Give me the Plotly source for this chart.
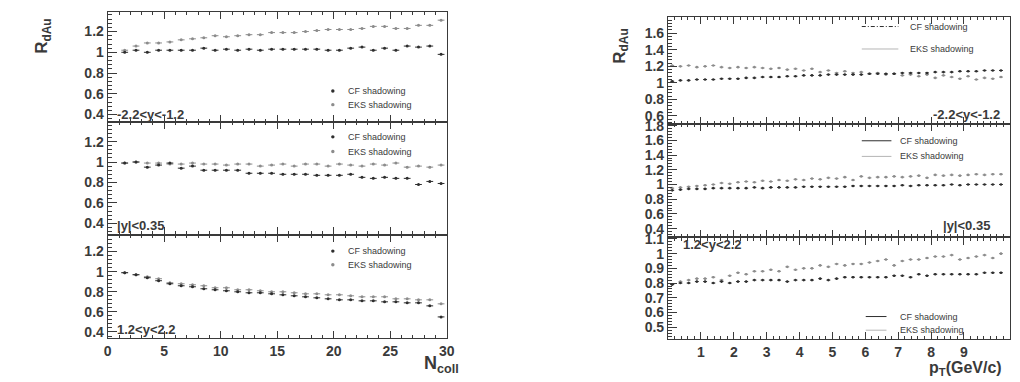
import plotly.graph_objects as go

W, H = 1020, 382

# ---------------- data ----------------
ncoll = [n + 0.5 for n in range(1, 30)]
pt = [0.125 + 0.25 * i for i in range(41)]

# left column: R_dAu vs N_coll
l1_cf = [1.00, 1.02, 1.00, 1.02, 1.02, 1.02, 1.02, 1.04, 1.02, 1.03,
         1.02, 1.03, 1.02, 1.03, 1.03, 1.03, 1.03, 1.03, 1.02, 1.02,
         1.04, 1.05, 1.02, 1.04, 1.02, 1.06, 1.05, 1.06, 0.98]
l1_eks = [1.02, 1.06, 1.09, 1.09, 1.10, 1.12, 1.13, 1.14, 1.16, 1.15,
          1.16, 1.17, 1.17, 1.19, 1.19, 1.19, 1.20, 1.21, 1.22, 1.22,
          1.22, 1.23, 1.25, 1.25, 1.23, 1.23, 1.26, 1.26, 1.31]
l2_cf = [0.99, 1.00, 0.95, 0.97, 0.99, 0.94, 0.96, 0.92, 0.92, 0.92,
         0.92, 0.89, 0.89, 0.89, 0.88, 0.88, 0.88, 0.87, 0.87, 0.87,
         0.88, 0.85, 0.84, 0.85, 0.84, 0.84, 0.78, 0.81, 0.79]
l2_eks = [0.99, 1.00, 0.99, 0.99, 0.98, 0.98, 0.99, 0.98, 0.98, 0.97,
          0.98, 0.98, 0.96, 0.97, 0.98, 0.96, 0.98, 0.98, 0.96, 0.98,
          0.97, 0.96, 0.98, 0.97, 0.99, 0.95, 0.96, 0.95, 0.97]
l3_cf = [0.99, 0.97, 0.94, 0.91, 0.88, 0.86, 0.85, 0.83, 0.82, 0.81,
         0.80, 0.79, 0.79, 0.78, 0.77, 0.76, 0.75, 0.74, 0.73, 0.72,
         0.72, 0.71, 0.71, 0.70, 0.70, 0.69, 0.69, 0.66, 0.55]
l3_eks = [0.99, 0.97, 0.95, 0.93, 0.89, 0.88, 0.87, 0.86, 0.84, 0.84,
          0.82, 0.82, 0.81, 0.80, 0.80, 0.79, 0.78, 0.78, 0.77, 0.77,
          0.76, 0.75, 0.75, 0.75, 0.73, 0.73, 0.72, 0.72, 0.68]

# right column: R_dAu vs pT
r1_cf = [1.02, 1.03, 1.03, 1.04, 1.04, 1.04, 1.05, 1.05, 1.05, 1.06,
         1.06, 1.07, 1.07, 1.07, 1.08, 1.08, 1.09, 1.09, 1.09, 1.10,
         1.10, 1.10, 1.10, 1.10, 1.11, 1.11, 1.11, 1.11, 1.12, 1.12,
         1.12, 1.12, 1.13, 1.13, 1.13, 1.14, 1.14, 1.14, 1.15, 1.15,
         1.15]
r1_eks = [1.21, 1.20, 1.21, 1.19, 1.20, 1.21, 1.19, 1.18, 1.19, 1.18,
          1.19, 1.18, 1.17, 1.18, 1.16, 1.17, 1.15, 1.17, 1.13, 1.15,
          1.12, 1.14, 1.12, 1.13, 1.11, 1.12, 1.10, 1.11, 1.09, 1.10,
          1.08, 1.10, 1.06, 1.09, 1.07, 1.05, 1.08, 1.04, 1.06, 1.05,
          1.07]
r2_cf = [0.92, 0.93, 0.94, 0.94, 0.94, 0.95, 0.95, 0.95, 0.95, 0.95,
         0.96, 0.95, 0.96, 0.96, 0.96, 0.96, 0.97, 0.97, 0.97, 0.97,
         0.97, 0.97, 0.98, 0.98, 0.98, 0.98, 0.98, 0.98, 0.99, 0.98,
         0.99, 0.99, 0.99, 0.99, 1.00, 0.99, 1.00, 1.00, 1.00, 1.00,
         1.00]
r2_eks = [0.95, 0.96, 0.97, 0.98, 0.99, 1.00, 1.02, 1.01, 1.03, 1.04,
          1.03, 1.05, 1.04, 1.06, 1.05, 1.07, 1.06, 1.08, 1.07, 1.09,
          1.08, 1.10, 1.06, 1.11, 1.09, 1.10, 1.10, 1.11, 1.10, 1.11,
          1.12, 1.09, 1.13, 1.12, 1.13, 1.12, 1.13, 1.14, 1.13, 1.14,
          1.14]
r3_cf = [0.79, 0.80, 0.80, 0.81, 0.81, 0.80, 0.81, 0.80, 0.81, 0.81,
         0.82, 0.82, 0.82, 0.82, 0.81, 0.82, 0.82, 0.82, 0.83, 0.82,
         0.83, 0.84, 0.84, 0.84, 0.84, 0.84, 0.84, 0.85, 0.85, 0.84,
         0.86, 0.85, 0.86, 0.86, 0.86, 0.86, 0.86, 0.86, 0.87, 0.87,
         0.87]
r3_eks = [0.79, 0.81, 0.82, 0.83, 0.83, 0.84, 0.82, 0.85, 0.87, 0.86,
          0.88, 0.88, 0.89, 0.88, 0.91, 0.89, 0.90, 0.90, 0.92, 0.91,
          0.93, 0.92, 0.93, 0.93, 0.94, 0.95, 0.96, 0.92, 0.95, 0.96,
          0.96, 0.97, 0.98, 0.98, 0.99, 0.96, 0.97, 0.98, 0.99, 0.97,
          1.00]

left_labels = ["-2.2<y<-1.2", "|y|<0.35", "1.2<y<2.2"]
right_labels = ["-2.2<y<-1.2", "|y|<0.35", "1.2<y<2.2"]
legend_names = ["CF shadowing", "EKS shadowing"]
x_ticks_left = [0, 5, 10, 15, 20, 25, 30]
x_ticks_right = [1, 2, 3, 4, 5, 6, 7, 8, 9]

# ---------------- style ----------------
CF_COL = "#2e2e2e"
EKS_COL = "#8c8c8c"
AX_COL = "#3a3a3a"
FONT = "Liberation Sans"


def px(x):
    return x / W


def py(y):
    return 1 - y / H


# panel pixel boxes: (x0, x1, ytop, ybottom)
panels = [
    (105, 448, 5, 118), (105, 448, 118, 233), (105, 448, 233, 339),
    (672, 1018, 10, 120), (672, 1018, 120, 236), (672, 1018, 236, 340),
]
yranges = [[0.325, 1.39], [0.29, 1.39], [0.34, 1.37],
           [0.5, 1.8], [0.28, 1.82], [0.42, 1.11]]
ytickv = [[0.4, 0.6, 0.8, 1.0, 1.2]] * 3 + [
    [0.6, 0.8, 1.0, 1.2, 1.4, 1.6],
    [0.4, 0.6, 0.8, 1.0, 1.2, 1.4, 1.6, 1.8],
    [0.5, 0.6, 0.7, 0.8, 0.9, 1.0, 1.1]]
yminor = [0.04, 0.04, 0.04, 0.04, 0.04, 0.02]

series = [
    (ncoll, l1_cf, l1_eks), (ncoll, l2_cf, l2_eks), (ncoll, l3_cf, l3_eks),
    (pt, r1_cf, r1_eks), (pt, r2_cf, r2_eks), (pt, r3_cf, r3_eks),
]

fig = go.Figure()
for k, (xs, cf, eks) in enumerate(series):
    ax = "" if k == 0 else str(k + 1)
    left = k < 3
    hx = 0.3 if left else 0.06
    for ys, col in ((eks, EKS_COL), (cf, CF_COL)):
        fig.add_trace(go.Scatter(
            x=xs, y=ys, mode="markers", xaxis="x" + ax, yaxis="y" + ax,
            marker=dict(symbol="circle", size=3 if left else 2.6, color=col),
            error_x=dict(type="constant", value=hx, color=col, thickness=1, width=0),
            error_y=dict(type="constant", value=0.008 if left else 0.006,
                         color=col, thickness=1, width=0),
            showlegend=False, hoverinfo="skip"))

layout = dict(
    width=W, height=H, margin=dict(l=0, r=0, t=0, b=0),
    paper_bgcolor="white", plot_bgcolor="white", showlegend=False,
    font=dict(family=FONT, color=AX_COL),
)

for k, (x0, x1, yt, yb) in enumerate(panels):
    ax = "" if k == 0 else str(k + 1)
    left = k < 3
    bottom = k in (2, 5)
    layout["xaxis" + ax] = dict(
        domain=[px(x0), px(x1)], anchor="y" + ax,
        range=[0, 30] if left else [0, 10.4],
        tickvals=x_ticks_left if left else x_ticks_right,
        showticklabels=bottom, ticks="inside", ticklen=7, tickcolor=AX_COL,
        minor=dict(dtick=1 if left else 0.2, ticks="inside", ticklen=3, tickcolor=AX_COL),
        showline=True, linecolor=AX_COL, linewidth=1.3, mirror="ticks",
        showgrid=False, zeroline=False,
        tickfont=dict(family=FONT, size=14, color=AX_COL, weight="bold"),
    )
    layout["yaxis" + ax] = dict(
        domain=[py(yb), py(yt)], anchor="x" + ax,
        range=yranges[k], tickvals=ytickv[k],
        ticktext=[("%g" % v) for v in ytickv[k]],
        ticks="inside", ticklen=9, tickcolor=AX_COL,
        minor=dict(dtick=yminor[k], ticks="inside", ticklen=4, tickcolor=AX_COL),
        showline=True, linecolor=AX_COL, linewidth=1.3, mirror=True,
        showgrid=False, zeroline=False,
        tickfont=dict(family=FONT, size=14, color=AX_COL, weight="bold"),
    )

fig.update_layout(**layout)

ann = []
shapes = []

# region labels
left_lab_pos = [(112, 110), (112, 224), (112, 330)]
for (x, y), t in zip(left_lab_pos, left_labels):
    ann.append(dict(x=px(x), y=py(y), xref="paper", yref="paper", text=t,
                    showarrow=False, xanchor="left", yanchor="middle",
                    font=dict(family=FONT, size=13, color=AX_COL, weight="bold")))
right_lab_pos = [(1010, 110, "right"), (1000, 224, "right"), (685, 243, "left")]
for (x, y, anc), t in zip(right_lab_pos, right_labels):
    ann.append(dict(x=px(x), y=py(y), xref="paper", yref="paper", text=t,
                    showarrow=False, xanchor=anc, yanchor="middle",
                    font=dict(family=FONT, size=13, color=AX_COL, weight="bold")))

# legends, left column (markers)
for yc, ye in [(86, 100), (133, 148), (250, 264)]:
    for y, col, name in ((yc, CF_COL, legend_names[0]), (ye, EKS_COL, legend_names[1])):
        shapes.append(dict(type="circle", xref="paper", yref="paper",
                           x0=px(331), x1=px(334.5), y0=py(y + 1.7), y1=py(y - 1.7),
                           fillcolor=col, line=dict(width=0)))
        ann.append(dict(x=px(346), y=py(y), xref="paper", yref="paper", text=name,
                        showarrow=False, xanchor="left", yanchor="middle",
                        font=dict(family=FONT, size=9, color=AX_COL)))

# legends, right column (lines)
for (lx0, lx1, tx, yc, ye) in [(868, 905, 915, 20, 43), (868, 898, 905, 137, 153),
                               (872, 893, 905, 317, 331)]:
    for y, col, name, dash in ((yc, CF_COL, legend_names[0], "4px,2px,1px,2px"),
                               (ye, "#b5b5b5", legend_names[1], "solid")):
        shapes.append(dict(type="line", xref="paper", yref="paper",
                           x0=px(lx0), x1=px(lx1), y0=py(y), y1=py(y),
                           line=dict(color=col, width=1, dash=dash if yc == 20 else "solid")))
        ann.append(dict(x=px(tx), y=py(y), xref="paper", yref="paper", text=name,
                        showarrow=False, xanchor="left", yanchor="middle",
                        font=dict(family=FONT, size=9, color=AX_COL)))

# axis titles
for x, y in [(40, 30), (624, 40)]:
    ann.append(dict(x=px(x), y=py(y), xref="paper", yref="paper",
                    text="R<sub>dAu</sub>", textangle=-90, showarrow=False,
                    xanchor="center", yanchor="middle",
                    font=dict(family=FONT, size=17, color=AX_COL, weight="bold")))
ann.append(dict(x=px(462), y=py(366), xref="paper", yref="paper",
                text="N<sub>coll</sub>", showarrow=False, xanchor="right", yanchor="middle",
                font=dict(family=FONT, size=18, color=AX_COL, weight="bold")))
ann.append(dict(x=px(1012), y=py(370), xref="paper", yref="paper",
                text="p<sub>T</sub>(GeV/c)", showarrow=False, xanchor="right", yanchor="middle",
                font=dict(family=FONT, size=16, color=AX_COL, weight="bold")))

fig.update_layout(annotations=ann, shapes=shapes)
fig.write_html("out.html")
